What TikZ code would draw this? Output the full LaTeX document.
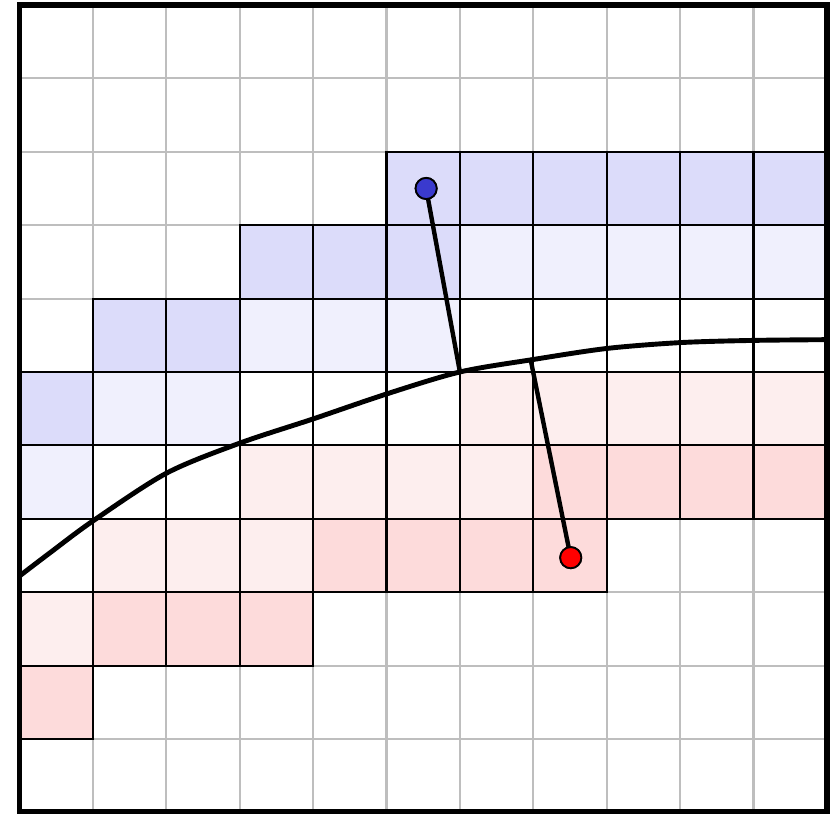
\documentclass[tikz,border=0pt]{standalone}
\definecolor{dblue}{RGB}{220,220,250}
\definecolor{lblue}{RGB}{240,240,253}
\definecolor{lred}{RGB}{253,238,238}
\definecolor{dred}{RGB}{253,219,219}
\definecolor{gridgray}{RGB}{190,190,190}
\definecolor{dotblue}{RGB}{58,58,206}
\tikzset{
  gridline/.style={draw=gridgray, line width=0.8pt},
  cellborder/.style={draw=black, line width=0.8pt},
  frameline/.style={draw=black, line width=2.3pt},
  curveline/.style={draw=black, line width=1.9pt, line join=round, line cap=round},
  normalline/.style={draw=black, line width=1.7pt, line cap=round},
  dotbase/.style={circle, draw=black, line width=0.7pt, minimum size=8.2pt, inner sep=0pt},
  bluedot/.style={dotbase, fill=dotblue},
  reddot/.style={dotbase, fill=red}
}
\begin{document}
\begin{tikzpicture}[x=1cm,y=1cm]
\useasboundingbox (-0.266,-0.022) rectangle (11.056,11.068);
\fill[white] (-0.266,-0.022) rectangle (11.056,11.068);
% filled cells
\foreach \c/\r in {5/8,6/8,7/8,8/8,9/8,10/8, 3/7,4/7,5/7, 1/6,2/6, 0/5}
  \fill[dblue] (\c,\r) rectangle ++(1,1);
\foreach \c/\r in {6/7,7/7,8/7,9/7,10/7, 3/6,4/6,5/6, 1/5,2/5, 0/4}
  \fill[lblue] (\c,\r) rectangle ++(1,1);
\foreach \c/\r in {6/5,7/5,8/5,9/5,10/5, 3/4,4/4,5/4,6/4, 1/3,2/3,3/3, 0/2}
  \fill[lred] (\c,\r) rectangle ++(1,1);
\foreach \c/\r in {7/4,8/4,9/4,10/4, 4/3,5/3,6/3,7/3, 1/2,2/2,3/2, 0/1}
  \fill[dred] (\c,\r) rectangle ++(1,1);
% gray grid
\draw[gridline] (0,0) grid (11,11);
% black borders of band cells
\foreach \c/\r in {5/8,6/8,7/8,8/8,9/8,10/8, 3/7,4/7,5/7,6/7,7/7,8/7,9/7,10/7,
  1/6,2/6,3/6,4/6,5/6,6/6,7/6,8/6,9/6,10/6,
  0/5,1/5,2/5,3/5,4/5,5/5,6/5,7/5,8/5,9/5,10/5,
  0/4,1/4,2/4,3/4,4/4,5/4,6/4,7/4,8/4,9/4,10/4,
  0/3,1/3,2/3,3/3,4/3,5/3,6/3,7/3,
  0/2,1/2,2/2,3/2, 0/1}
  \draw[cellborder] (\c,\r) rectangle ++(1,1);
% curve
\draw[curveline] plot[smooth, tension=0.5] coordinates {(0,3.22) (0.42,3.54) (1,3.97) (2,4.62) (3,5.03) (4,5.36) (5,5.70) (6,6.0) (7,6.17) (8,6.32) (9,6.40) (10,6.43) (11,6.44)};
% normals and dots
\coordinate (bfoot) at (6.0,6.0);
\coordinate (rfoot) at (6.965,6.163);
\node[bluedot] (bdot) at (5.54,8.50) {};
\node[reddot] (rdot) at (7.51,3.47) {};
\draw[normalline] (bdot) -- (bfoot);
\draw[normalline] (rfoot) -- (rdot);
\node[bluedot] at (bdot) {};
\node[reddot] at (rdot) {};
% frame
\draw[frameline] (0,0) rectangle (11,11);
\end{tikzpicture}
\end{document}
